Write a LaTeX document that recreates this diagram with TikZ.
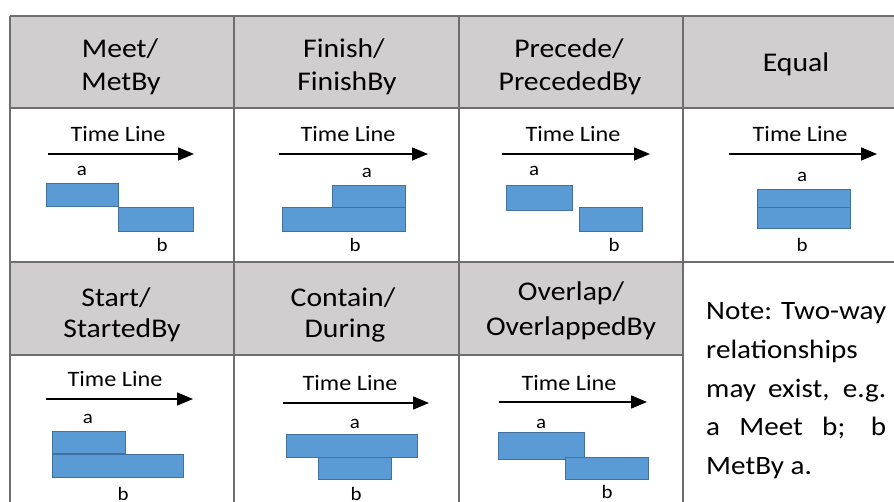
\documentclass[tikz,border=0pt]{standalone}
\usepackage{fontspec}
\setmainfont[FakeStretch=1.1]{Carlito}
\usetikzlibrary{arrows.meta}
\definecolor{hdrgray}{HTML}{D0CECE}
\definecolor{gridgray}{HTML}{6E6E6E}
\definecolor{barblue}{HTML}{5B9BD5}
\definecolor{barline}{HTML}{41719C}
\begin{document}
\begin{tikzpicture}[x=1pt,y=-1pt,
 bar/.style={fill=barblue,draw=barline,line width=1pt},
 gridline/.style={draw=gridgray,line width=2pt},
 hdr/.style={font=\fontsize{27}{30}\selectfont,anchor=base,inner sep=0pt},
 tl/.style={font=\fontsize{22}{24}\selectfont,anchor=base,inner sep=0pt},
 lbl/.style={font=\fontsize{19}{22}\selectfont,anchor=base,inner sep=0pt},
 timearrow/.style={line width=1.5pt,-{Triangle[length=16pt,width=13pt]}},
 notetext/.style={font=\fontsize{26.5}{30}\selectfont,anchor=base west,inner sep=0pt}]
\useasboundingbox[fill=white] (0,0) rectangle (894,502);
\clip (0,0) rectangle (894,502);
% header fills
\fill[hdrgray] (10,16) rectangle (907,108);
\fill[hdrgray] (10,262) rectangle (683,355);
% grid
\draw[gridline] (10,16) -- (907,16);
\draw[gridline] (10,108) -- (907,108);
\draw[gridline] (10,262) -- (907,262);
\draw[gridline] (10,355) -- (683,355);
\draw[gridline] (10,16) -- (10,510);
\draw[gridline] (234,16) -- (234,510);
\draw[gridline] (459,16) -- (459,510);
\draw[gridline] (683,16) -- (683,510);
\draw[gridline] (907,16) -- (907,510);
% headers row 1
\node[hdr] (h1a) at (120,58) {Meet/};
\node[hdr] (h1b) at (121,91) {MetBy};
\node[hdr] (h2a) at (344,58) {Finish/};
\node[hdr] (h2b) at (347,91) {FinishBy};
\node[hdr] (h3a) at (569,58) {Precede/};
\node[hdr] (h3b) at (570,91) {PrecededBy};
\node[hdr] (h4) at (796,72) {Equal};
% headers row 2
\node[hdr] (h5a) at (116,307) {Start/};
\node[hdr] (h5b) at (122,338) {StartedBy};
\node[hdr] (h6a) at (343,307) {Contain/};
\node[hdr] (h6b) at (345,338) {During};
\node[hdr] (h7a) at (571,301) {Overlap/};
\node[hdr] (h7b) at (571,336) {OverlappedBy};
% note
\node[notetext] (n1) at (706,320) {\makebox[180pt][s]{Note: Two-way}};
\node[notetext] (n2) at (706,358.5) {relationships};
\node[notetext] (n3) at (706,397) {\makebox[180pt][s]{may exist, e.g.}};
\node[notetext] (n4) at (706,435.5) {\makebox[180pt][s]{a Meet b; b}};
\node[notetext] (n5) at (706,474) {MetBy a.};
% ---------- cell 1: Meet
\node[tl] (tl1) at (118,142) {Time Line};
\coordinate (s1) at (48,154); \coordinate (e1) at (194,154);
\draw[timearrow] (s1) -- (e1);
\node[lbl] (a1) at (82,176) {a};
\draw[bar] (46,184) rectangle (118,207);
\draw[bar] (118,208) rectangle (193,232);
\node[lbl] (b1) at (162,252) {b};
% ---------- cell 2: Finish
\node[tl] (tl2) at (348,142) {Time Line};
\coordinate (s2) at (279,154); \coordinate (e2) at (428,154);
\draw[timearrow] (s2) -- (e2);
\node[lbl] (a2) at (367,178) {a};
\draw[bar] (282,208) rectangle (405,232);
\draw[bar] (332,186) rectangle (405,208);
\node[lbl] (b2) at (355,252) {b};
% ---------- cell 3: Precede
\node[tl] (tl3) at (573,142) {Time Line};
\coordinate (s3) at (502,154); \coordinate (e3) at (650,154);
\draw[timearrow] (s3) -- (e3);
\node[lbl] (a3) at (534,176) {a};
\draw[bar] (506,186) rectangle (572,211);
\draw[bar] (579,208) rectangle (642,232);
\node[lbl] (b3) at (614,252) {b};
% ---------- cell 4: Equal
\node[tl] (tl4) at (800,142) {Time Line};
\coordinate (s4) at (729,154); \coordinate (e4) at (877,154);
\draw[timearrow] (s4) -- (e4);
\node[lbl] (a4) at (802,182) {a};
\draw[bar] (757,190) rectangle (850,208);
\draw[bar] (757,208) rectangle (850,229);
\node[lbl] (b4) at (802,252) {b};
% ---------- cell 5: Start
\node[tl] (tl5) at (115,386) {Time Line};
\coordinate (s5) at (46,399); \coordinate (e5) at (193,399);
\draw[timearrow] (s5) -- (e5);
\node[lbl] (a5) at (88,423) {a};
\draw[bar] (52,431) rectangle (125,453);
\draw[bar] (52,454) rectangle (183,477);
\node[lbl] (b5) at (123,500) {b};
% ---------- cell 6: Contain
\node[tl] (tl6) at (350,390) {Time Line};
\coordinate (s6) at (283,403); \coordinate (e6) at (429,403);
\draw[timearrow] (s6) -- (e6);
\node[lbl] (a6) at (355,428) {a};
\draw[bar] (318,457) rectangle (391,479);
\draw[bar] (286,434) rectangle (417,457);
\node[lbl] (b6) at (356,500) {b};
% ---------- cell 7: Overlap
\node[tl] (tl7) at (569,390) {Time Line};
\coordinate (s7) at (499,402); \coordinate (e7) at (647,402);
\draw[timearrow] (s7) -- (e7);
\node[lbl] (a7) at (541,428) {a};
\draw[bar] (498,432) rectangle (584,459);
\draw[bar] (565,457) rectangle (648,479);
\node[lbl] (b7) at (607,498) {b};
\end{tikzpicture}
\end{document}
